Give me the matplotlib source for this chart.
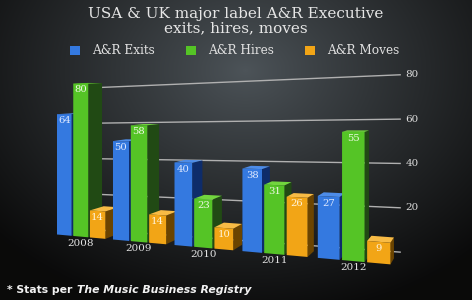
import numpy as np
import matplotlib.pyplot as plt
import matplotlib.transforms as mtransforms
from matplotlib.patches import Patch

years = ['2008', '2009', '2010', '2011', '2012']
exits = [64, 50, 40, 38, 27]
hires = [80, 58, 23, 31, 55]
moves = [14, 14, 10, 26, 9]
series_names = ['A&R Exits', 'A&R Hires', 'A&R Moves']
grid_vals = [0, 20, 40, 60, 80]
tick_labels = ['', '20', '40', '60', '80']

front_cols = ['#3479e0', '#55c426', '#f2a516']
side_cols = ['#0e2c6a', '#214a14', '#6b4400']
top_cols = ['#4d8ce8', '#72d63e', '#f8bb45']
text_cols = ['#dfe9ff', '#eef8e4', '#fff4dc']


class Persp(mtransforms.Transform):
    # (group position, value) -> picture pixels, a simple perspective view
    input_dims = 2
    output_dims = 2

    def __init__(self, q0, q1, q2, dz=0.0, vp=(493, 88)):
        super().__init__()
        self.q0, self.q1, self.q2 = q0, q1, q2
        self.dz = dz
        self.vp = vp

    def transform_non_affine(self, values):
        values = np.asarray(values, dtype=float).reshape(-1, 2)
        u, v = values[:, 0], values[:, 1]
        w = 1 - 0.045 * u
        px = (57 + 50.9 * u) / w
        py = (self.q0 + self.q1 * u + self.q2 * v) / w
        px = px + self.dz * (self.vp[0] - px)
        py = py + self.dz * (self.vp[1] - py)
        return np.column_stack([px, py])


fig = plt.figure(figsize=(4.72, 3.0), dpi=100)
ax = fig.add_axes([0, 0, 1, 1])

yy, xx = np.mgrid[0:300, 0:472]
r = np.clip(np.sqrt(((xx - 245) / 330.0) ** 2 + ((yy - 70) / 250.0) ** 2), 0, 1)
c0 = np.array([0x4d, 0x54, 0x59]) / 255
c1 = np.array([0x0a, 0x0a, 0x0a]) / 255
img = c0 + (c1 - c0) * r[..., None] ** 0.9
ax.imshow(img, extent=(0, 472, 300, 0), zorder=0, interpolation='bilinear')

front = Persp(234.5, -5.76, -1.88)
back = Persp(234.5, -5.76, -1.88, dz=0.034)
wall = Persp(226.9, -6.28, -1.72)
front_tr = front + ax.transData
wall_tr = wall + ax.transData

for g, lab in zip(grid_vals, tick_labels):
    ax.plot([0.776, 4.98], [g, g], transform=wall_tr, color='#b0b0b0', lw=1.0, zorder=1)
    ax.annotate(lab, (4.98, g), xycoords=wall_tr, xytext=(4, 0), textcoords='offset points',
                ha='left', va='center', fontsize=7.5, family='DejaVu Serif', color='#dcdcdc')

vals = [exits, hires, moves]
offs = [0.0, 0.3, 0.6]
bw = 0.27

for gi in range(len(years)):
    for k in range(3):
        u0 = gi + offs[k]
        h = vals[k][gi]
        z = 2 + gi * 3 + k
        side = np.vstack([front.transform([(u0 + bw, 0), (u0 + bw, h)]),
                          back.transform([(u0 + bw, h), (u0 + bw, 0)])])
        ax.fill(side[:, 0], side[:, 1], color=side_cols[k], lw=0, zorder=z)
        top = np.vstack([front.transform([(u0, h), (u0 + bw, h)]),
                         back.transform([(u0 + bw, h), (u0, h)])])
        ax.fill(top[:, 0], top[:, 1], color=top_cols[k], lw=0, zorder=z)

for k in range(3):
    xs = [gi + offs[k] for gi in range(len(years))]
    ax.bar(xs, vals[k], width=bw, align='edge', color=front_cols[k], lw=0,
           transform=front_tr, zorder=50)
    for x, h in zip(xs, vals[k]):
        ax.annotate(str(h), (x + bw / 2, h), xycoords=front_tr, xytext=(0, -1.5),
                    textcoords='offset points', ha='center', va='top', fontsize=7.2,
                    family='DejaVu Serif', color=text_cols[k], zorder=60)

for gi, yr in enumerate(years):
    ax.annotate(yr, (gi + 0.435, 0), xycoords=front_tr, xytext=(0, -1.5),
                textcoords='offset points', ha='center', va='top', fontsize=7.5,
                family='DejaVu Serif', color='#e2e2e2', zorder=60)

ax.set_xlim(0, 472)
ax.set_ylim(300, 0)
ax.set_aspect('auto')
ax.axis('off')

fig.text(0.5, 1 - 21 / 300, 'USA & UK major label A&R Executive\nexits, hires, moves',
         ha='center', va='center', fontsize=11, family='DejaVu Serif',
         color='#e6e6e6', linespacing=1.0)

handles = [Patch(facecolor=c, edgecolor='none') for c in front_cols]
fig.legend(handles, series_names, loc='center', bbox_to_anchor=(0.497, 1 - 51 / 300), ncol=3,
           frameon=False, prop={'family': 'DejaVu Serif', 'size': 8.7}, labelcolor='#e0e0e0',
           handlelength=0.8, handleheight=0.8, handletextpad=1.0, columnspacing=2.6)

t1 = fig.text(7 / 472, 1 - 295 / 300, '* Stats per', ha='left', va='bottom', fontsize=7.8,
              weight='bold', color='#f2f2f2')
ax.annotate('The Music Business Registry', xy=(1, 0), xycoords=t1, xytext=(3, 0),
            textcoords='offset points', ha='left', va='bottom', fontsize=7.8,
            weight='bold', style='italic', color='#f2f2f2')

fig.savefig('out.png', dpi=100)
